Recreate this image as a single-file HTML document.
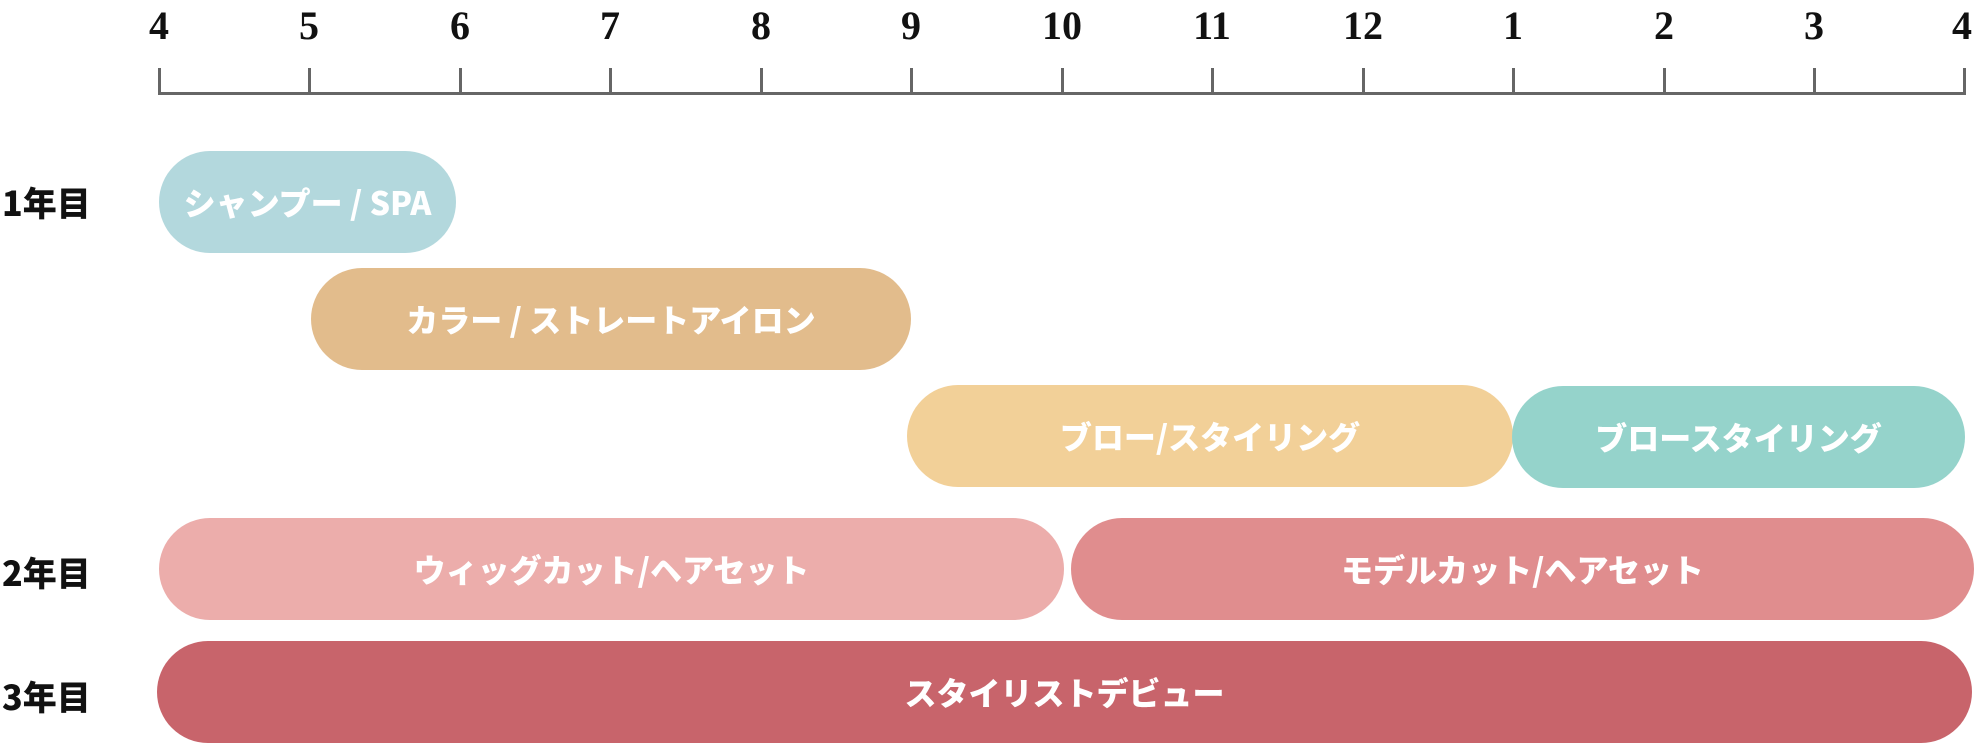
<!DOCTYPE html>
<html><head><meta charset="utf-8"><style>
body{margin:0;width:1977px;height:748px;background:#fff;position:relative;overflow:hidden;font-family:"Noto Sans CJK JP","Liberation Sans",sans-serif}
.n{position:absolute;top:2px;font-family:"Liberation Serif",serif;font-weight:bold;font-size:40px;color:#111;transform:translateX(-50%)}
.t{position:absolute;top:68px;width:3px;height:26px;background:#666}
.b{position:absolute;height:102px;border-radius:51px;color:#fff;font-weight:900;font-size:32px;display:flex;align-items:center;justify-content:center;letter-spacing:0px}
.y{position:absolute;left:2px;font-weight:900;font-size:34px;color:#111;line-height:1}
</style></head><body>
<div style="position:absolute;left:158px;top:92px;width:1808px;height:3px;background:#666"></div>
<div class="t" style="left:158px"></div><div class="n" style="left:159px">4</div>
<div class="t" style="left:308px"></div><div class="n" style="left:309px">5</div>
<div class="t" style="left:459px"></div><div class="n" style="left:460px">6</div>
<div class="t" style="left:609px"></div><div class="n" style="left:610px">7</div>
<div class="t" style="left:760px"></div><div class="n" style="left:761px">8</div>
<div class="t" style="left:910px"></div><div class="n" style="left:911px">9</div>
<div class="t" style="left:1061px"></div><div class="n" style="left:1062px">10</div>
<div class="t" style="left:1211px"></div><div class="n" style="left:1212px">11</div>
<div class="t" style="left:1362px"></div><div class="n" style="left:1363px">12</div>
<div class="t" style="left:1512px"></div><div class="n" style="left:1513px">1</div>
<div class="t" style="left:1663px"></div><div class="n" style="left:1664px">2</div>
<div class="t" style="left:1813px"></div><div class="n" style="left:1814px">3</div>
<div class="t" style="left:1963px"></div><div class="n" style="left:1962px">4</div>

<div class="y" style="top:185px">1年目</div>
<div class="y" style="top:555px">2年目</div>
<div class="y" style="top:679px">3年目</div>

<div class="b" style="left:159px;top:151px;width:297px;background:#b3d8dd">シャンプー / SPA</div>
<div class="b" style="left:311px;top:268px;width:600px;background:#e2bc8c">カラー / ストレートアイロン</div>
<div class="b" style="left:907px;top:385px;width:606px;background:#f2d098">ブロー/スタイリング</div>
<div class="b" style="left:1512px;top:386px;width:453px;background:#95d3cb">ブロースタイリング</div>
<div class="b" style="left:159px;top:518px;width:905px;background:#ecadab">ウィッグカット/ヘアセット</div>
<div class="b" style="left:1071px;top:518px;width:903px;background:#e08d8e">モデルカット/ヘアセット</div>
<div class="b" style="left:157px;top:641px;width:1815px;background:#c8646b">スタイリストデビュー</div>
</body></html>
